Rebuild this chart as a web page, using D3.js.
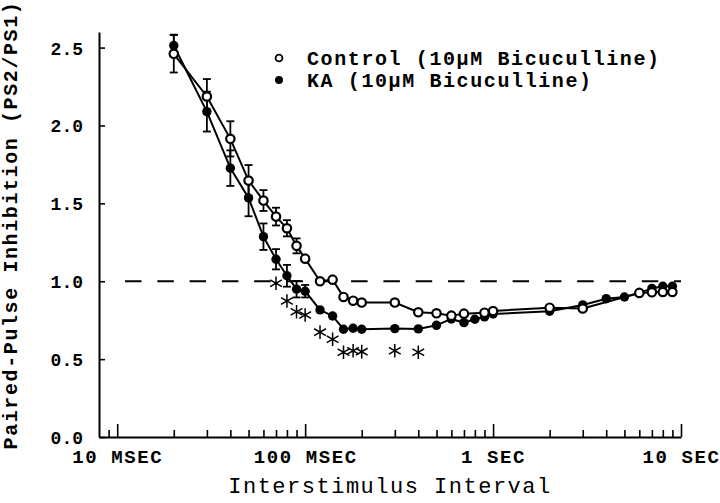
<!DOCTYPE html>
<html>
<head>
<meta charset="utf-8">
<script src="https://cdn.jsdelivr.net/npm/d3@7"></script>
<style>
  body { margin: 0; background: #fff; }
  svg { display: block; }
</style>
</head>
<body>
<script>
// interstimulus interval in ms, ratio PS2/PS1, SEM
const ctrlX   = [20, 30, 40, 50, 60, 70, 80, 90, 100, 120, 140, 160, 180, 200, 300, 400, 500, 600, 700, 900, 1000, 2000, 3000, 6000, 7000, 8000, 9000];
const ctrlY   = [2.46, 2.186, 1.914, 1.646, 1.518, 1.415, 1.34, 1.227, 1.145, 1.0, 1.01, 0.899, 0.875, 0.863, 0.863, 0.801, 0.794, 0.779, 0.792, 0.798, 0.809, 0.83, 0.825, 0.925, 0.929, 0.931, 0.931];
const ctrlErr = [0.12, 0.112, 0.113, 0.10, 0.067, 0.057, 0.052, 0.048, 0.02, 0.02, 0.02, 0.02, 0.02, 0.02, 0.02, 0.02, 0.02, 0.02, 0.02, 0.02, 0.02, 0.02, 0.02, 0.02, 0.02, 0.02, 0.02];

const kaX   = [20, 30, 40, 50, 60, 70, 80, 90, 100, 120, 140, 160, 180, 200, 300, 400, 500, 600, 700, 800, 900, 1000, 2000, 3000, 4000, 5000, 6000, 7000, 8000, 9000];
const kaY   = [2.513, 2.089, 1.726, 1.535, 1.286, 1.141, 1.035, 0.949, 0.936, 0.816, 0.777, 0.692, 0.698, 0.692, 0.696, 0.694, 0.717, 0.758, 0.734, 0.756, 0.771, 0.79, 0.807, 0.848, 0.888, 0.899, 0.925, 0.954, 0.968, 0.968];
const kaErr = [0.07, 0.128, 0.114, 0.118, 0.085, 0.065, 0.07, 0.053, 0.04, 0.02, 0.02, 0.02, 0.02, 0.02, 0.02, 0.02, 0.02, 0.02, 0.02, 0.02, 0.02, 0.02, 0.02, 0.02, 0.02, 0.02, 0.02, 0.02, 0.02, 0.02];

// significance marks under the KA curve
const sigX = [70, 80, 90, 100, 120, 140, 160, 180, 200, 300, 400];
const sigY = [0.987, 0.873, 0.804, 0.783, 0.673, 0.628, 0.544, 0.554, 0.548, 0.554, 0.544];

const xMajor = [10, 100, 1000, 10000];
const xMajorLabels = ["10 MSEC", "100 MSEC", "1 SEC", "10 SEC"];
const xMinor = [9, 20, 30, 40, 50, 60, 70, 80, 90, 200, 300, 400, 500, 600, 700, 800, 900,
                2000, 3000, 4000, 5000, 6000, 7000, 8000, 9000];
const yTicks = [0, 0.5, 1.0, 1.5, 2.0, 2.5];
const refLine = 1.0;

const legendLabels = ["Control (10\u03BCM Bicuculline)", "KA (10\u03BCM Bicuculline)"];

const W = 720, H = 503;
const mono = "'Liberation Mono', 'Courier New', monospace";

const svg = d3.select("body").append("svg").attr("width", W).attr("height", H);
svg.append("rect").attr("width", W).attr("height", H).attr("fill", "#fff");

const x = d3.scaleLog().domain([8, 10000]).range([99, 681]);
const y = d3.scaleLinear().domain([0, 2.6]).range([437, 32]);

// axes
let minorAxis = svg.append("g").attr("transform", "translate(0," + y(0) + ")")
  .call(d3.axisBottom(x).tickValues(xMinor).tickSize(-7).tickFormat(""));
minorAxis.select(".domain").remove();

let xAxis = svg.append("g").attr("transform", "translate(0," + y(0) + ")")
  .call(d3.axisBottom(x).tickValues(xMajor).tickSize(-13).tickSizeOuter(0).tickPadding(13)
        .tickFormat((d, i) => xMajorLabels[i]));

let yAxis = svg.append("g").attr("transform", "translate(" + x(8) + ",0)")
  .call(d3.axisLeft(y).tickValues(yTicks).tickSize(-6).tickSizeOuter(0).tickPadding(16)
        .tickFormat(d3.format(".1f")));

svg.selectAll(".domain").attr("stroke", "#000").attr("stroke-width", 2);
svg.selectAll(".tick line").attr("stroke", "#000").attr("stroke-width", 1.6);
svg.selectAll(".tick text").attr("fill", "#000").attr("font-family", mono)
  .attr("font-weight", "bold");
xAxis.selectAll(".tick text").attr("font-size", 19).attr("letter-spacing", 1.6);
yAxis.selectAll(".tick text").attr("font-size", 18).attr("dy", "0.36em");

// axis titles
svg.append("text")
  .attr("x", (x(8) + x(10000)) / 2).attr("y", 493)
  .attr("text-anchor", "middle")
  .attr("font-family", mono).attr("font-size", 22).attr("letter-spacing", 1.5)
  .text("Interstimulus Interval");

svg.append("text")
  .attr("transform", "translate(17," + 225 + ") rotate(-90)")
  .attr("text-anchor", "middle")
  .attr("font-family", mono).attr("font-size", 20).attr("font-weight", "bold")
  .attr("letter-spacing", 1.6)
  .text("Paired-Pulse Inhibition (PS2/PS1)");

// reference line at 1.0
svg.append("line")
  .attr("x1", x(11)).attr("x2", x(10000))
  .attr("y1", y(refLine)).attr("y2", y(refLine))
  .attr("stroke", "#000").attr("stroke-width", 2)
  .attr("stroke-dasharray", "16.5,15.8");

const line = d3.line().x(d => x(d[0])).y(d => y(d[1]));

function drawSeries(xs, ys, errs, filled, dash) {
  let r = filled ? 4.7 : 4.2;
  let pts = xs.map((v, i) => [v, ys[i], errs[i]]);
  let g = svg.append("g");
  g.append("path").datum(pts)
    .attr("d", line).attr("fill", "none")
    .attr("stroke", "#000").attr("stroke-width", 2)
    .attr("stroke-dasharray", dash);

  // bars shorter than the marker are hidden behind it
  let withBars = pts.filter(d => y(0) - y(d[2]) > r + 1);
  let bars = g.selectAll("g.bar").data(withBars).enter().append("g").attr("class", "bar")
    .attr("stroke", "#000").attr("stroke-width", 1.8);
  bars.append("line")
    .attr("x1", d => x(d[0])).attr("x2", d => x(d[0]))
    .attr("y1", d => y(d[1] - d[2])).attr("y2", d => y(d[1] + d[2]));
  [-1, 1].forEach(s => {
    bars.append("line")
      .attr("x1", d => x(d[0]) - 4).attr("x2", d => x(d[0]) + 4)
      .attr("y1", d => y(d[1] + s * d[2])).attr("y2", d => y(d[1] + s * d[2]));
  });

  g.selectAll("circle").data(pts).enter().append("circle")
    .attr("cx", d => x(d[0])).attr("cy", d => y(d[1]))
    .attr("r", r)
    .attr("fill", filled ? "#000" : "#fff")
    .attr("stroke", "#000").attr("stroke-width", filled ? 0 : 2.2);
}

drawSeries(kaX, kaY, kaErr, true, null);
drawSeries(ctrlX, ctrlY, ctrlErr, false, null);

// asterisks
svg.append("g").selectAll("path").data(sigX).enter().append("path")
  .attr("transform", (d, i) => "translate(" + x(d) + "," + y(sigY[i]) + ")")
  .attr("d", d3.symbol().type(d3.symbolAsterisk).size(130))
  .attr("fill", "none").attr("stroke", "#000").attr("stroke-width", 1.5);

// legend
let legend = svg.append("g").attr("transform", "translate(279,58)");
legendLabels.forEach((lab, i) => {
  let row = legend.append("g").attr("transform", "translate(0," + i * 22 + ")");
  row.append("circle").attr("r", i == 0 ? 3.4 : 4)
    .attr("fill", i == 0 ? "#fff" : "#000")
    .attr("stroke", "#000").attr("stroke-width", i == 0 ? 1.8 : 0);
  row.append("text").attr("x", 28).attr("dy", "0.35em")
    .attr("font-family", mono).attr("font-size", 20).attr("font-weight", "bold")
    .attr("letter-spacing", 1.6)
    .text(lab);
});
</script>
</body>
</html>
